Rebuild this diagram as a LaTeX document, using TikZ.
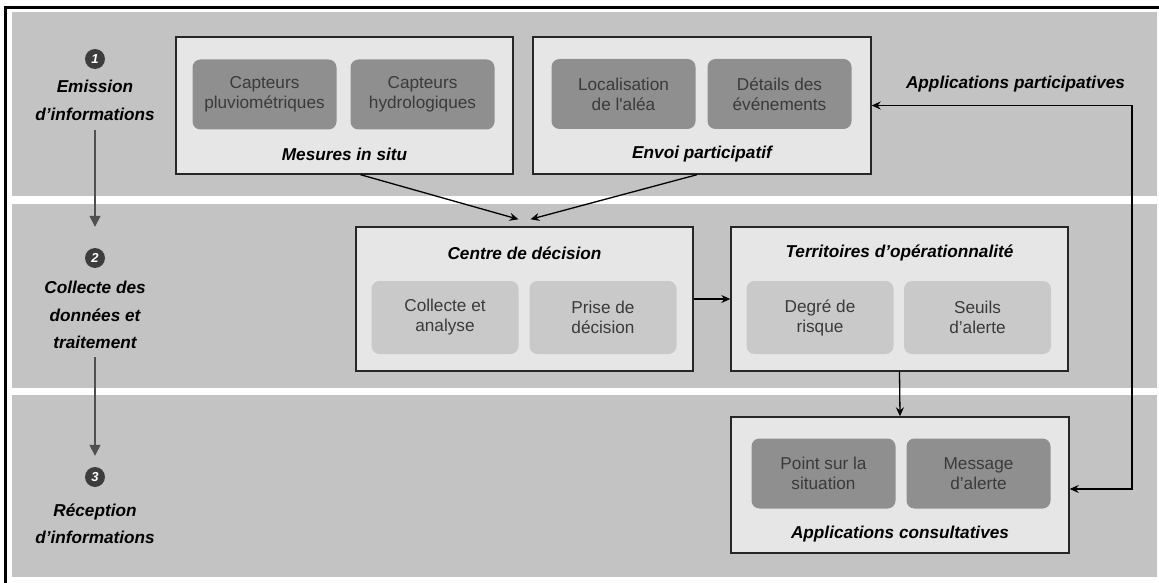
\documentclass[tikz,border=0pt]{standalone}
\usepackage{fontspec}
\setmainfont{Liberation Sans}
\usetikzlibrary{arrows.meta,calc}

\definecolor{bandgray}{HTML}{C3C3C3}
\definecolor{panelgray}{HTML}{E6E6E6}
\definecolor{sensorgray}{HTML}{8F8F8F}
\definecolor{taskgray}{HTML}{C9C9C9}
\definecolor{celltext}{HTML}{3A3A3A}
\definecolor{flowgray}{HTML}{505050}
\definecolor{numgray}{HTML}{3D3D3D}

\begin{document}
\begin{tikzpicture}[x=1pt, y=-1pt,
  band/.style={fill=bandgray, draw=none},
  panel/.style={draw=black!85, line width=1.4pt, fill=panelgray, rectangle,
                minimum width=337pt, inner sep=0pt},
  cell/.style={rounded corners=8pt, minimum width=144pt, minimum height=70pt,
               align=center, text=celltext, inner sep=0pt,
               font=\fontsize{17.2}{20}\selectfont},
  dcell/.style={cell, fill=sensorgray},
  lcell/.style={cell, fill=taskgray, minimum width=147pt, minimum height=73pt},
  title/.style={font=\fontsize{17.2}{20}\selectfont\bfseries\itshape},
  stage/.style={align=center, inner sep=0pt,
                font=\fontsize{17.2}{27.5}\selectfont\bfseries\itshape},
  num/.style={circle, fill=numgray, text=white, minimum size=20pt, inner sep=0pt,
              font=\fontsize{13}{13}\selectfont\bfseries\itshape},
  link/.style={line width=1.3pt, -{Stealth[length=9pt,width=8pt,inset=3pt]}},
  flow/.style={draw=flowgray, line width=1.6pt,
               -{Triangle[length=11pt,width=11pt,fill=flowgray]}}
]
  \useasboundingbox (0,0) rectangle (1159,583);

  \fill[band] (12,12)  rectangle (1157,196);
  \fill[band] (12,204) rectangle (1157,388);
  \fill[band] (12,395) rectangle (1157,577);
  \draw[line width=2.5pt] (5.5,583) -- (5.5,7.5) -- (1159,7.5);

  % left column: the three stages
  \node (num1) [num] at (95,59) {1};
  \node (stage1) [stage] at (95,100.5) {Emission\\d’informations};
  \node (num2) [num] at (95,258) {2};
  \node (stage2) [stage] at (95,315) {Collecte des\\données et\\traitement};
  \node (num3) [num] at (95,477) {3};
  \node (stage3) [stage] at (95,524) {Réception\\d’informations};

  \draw[flow, shorten <=9pt, shorten >=21pt] (stage1) -- (num2);
  \draw[flow, shorten <=8pt, shorten >=11pt] (stage2) -- (num3);

  % panels
  \node (mesures) [panel, minimum height=137pt] at (344.5,105.5) {};
  \node (envoi) [panel, minimum width=338pt, minimum height=137pt] at (702,105.5) {};
  \node (centre) [panel, minimum height=144pt] at (524.5,299) {};
  \node (territoires) [panel, minimum height=144pt] at (899.5,299) {};
  \node (consult) [panel, minimum width=338pt, minimum height=136pt] at (900,485) {};

  \node (pluvio) [dcell] at (264.5,94.5) {Capteurs\\pluviométriques};
  \node (hydro) [dcell] at (422.5,94.5) {Capteurs\\hydrologiques};
  \node (alea) [dcell] at (623.5,94) {Localisation\\de l\textquotesingle aléa};
  \node (details) [dcell] at (779.5,94) {Détails des\\événements};

  \node (collecte) [lcell] at (445,317.5) {Collecte et\\analyse};
  \node (prise) [lcell] at (603,317.5) {Prise de\\décision};
  \node (degre) [lcell] at (820,317.5) {Degré de\\risque};
  \node (seuils) [lcell] at (977.5,317.5) {Seuils\\d’alerte};

  \node (point) [dcell] at (823.5,473.5) {Point sur la\\situation};
  \node (message) [dcell] at (978.5,473.5) {Message\\d’alerte};

  \node (mesurestitle) [title] at (344.5,154) {Mesures in situ};
  \node (envoititle) [title] at (702,154) {Envoi participatif};
  \node (centretitle) [title] at (524.5,253) {Centre de décision};
  \node (territoirestitle) [title] at (899.5,253) {Territoires d’opérationnalité};
  \node (consulttitle) [title] at (900,534) {Applications consultatives};
  \node (participatives) [title] at (1015.5,84) {Applications participatives};

  % connectors
  \coordinate (retour) at (1132,300);
  \draw[link] ($(mesures.south)+(16,0)$) -- ($(centre.north)+(-6,-7)$);
  \draw[link] ($(envoi.south)+(-5,0)$) -- ($(centre.north)+(6,-7)$);
  \draw[link] (centre.east) -- (territoires.west);
  \draw[link] (territoires.south) -- (consult.north);
  \draw[link, {Stealth[length=9pt,width=8pt,inset=3pt]}-{Stealth[length=9pt,width=8pt,inset=3pt]}]
    (envoi.east) -- (envoi.east -| retour) -- ($(consult.east -| retour)+(0,4)$)
    -- ($(consult.east)+(0,4)$);
\end{tikzpicture}
\end{document}
